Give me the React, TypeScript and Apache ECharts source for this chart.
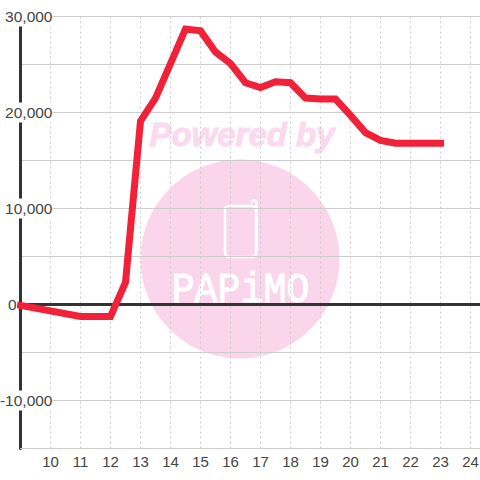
import React, { useEffect, useRef } from "react";
import * as echarts from "echarts";

const hours = [9, 11, 12, 12.5, 13, 13.5, 14, 14.5, 15, 15.5, 16, 16.5, 17, 17.5, 18, 18.5, 19, 19.5, 20, 20.5, 21, 21.5, 22, 22.5, 23];
const values = [-100, -1250, -1250, 2300, 19100, 21500, 25100, 28700, 28500, 26300, 25100, 23100, 22600, 23200, 23100, 21500, 21400, 21400, 19700, 17900, 17100, 16800, 16800, 16800, 16800];
const xMin = 9;
const xMax = 24.3167;
const zeroLine = [[xMin, 0], [xMax, 0]];

const DARK = "#333333";
const RED = "#f02138";
const GRID = "#cccccc";
const PINK = "#fbd5ec";
const FONT = "'Liberation Sans', Arial, sans-serif";

export default function App() {
  const ref = useRef<HTMLDivElement>(null);
  useEffect(() => {
    const chart = echarts.init(ref.current!, undefined, { renderer: "svg" });
    chart.setOption({
      animation: false,
      backgroundColor: "#ffffff",
      grid: { left: 20.5, right: 0, top: 16.5, bottom: 31.5, containLabel: false, outerBoundsMode: "none" },
      graphic: [
        { type: "circle", z: -1, shape: { cx: 240, cy: 259, r: 99.5 }, style: { fill: PINK } },
        { type: "text", z: -1, x: 242, y: 134, style: { text: "Powered by", fill: "#fbd9ef", stroke: "#fbd9ef", lineWidth: 1, font: "italic bold 33px 'Liberation Sans', sans-serif", textAlign: "center", textVerticalAlign: "middle" } },
        { type: "rect", z: -1, shape: { x: 225, y: 206, width: 31, height: 51, r: 4 }, style: { fill: "none", stroke: "#ffffff", lineWidth: 2.5 } },
        { type: "arc", z: -1, shape: { cx: 254, cy: 203, r: 2.5, startAngle: Math.PI, endAngle: 0, clockwise: true }, style: { fill: "none", stroke: "#ffffff", lineWidth: 2.5 } },
        { type: "line", z: -1, shape: { x1: 256.5, y1: 203, x2: 256.5, y2: 250 }, style: { stroke: "#ffffff", lineWidth: 2.5 } },
        { type: "text", z: -1, x: 240.5, y: 290, scaleX: 0.89, style: { text: "PAPiMO", fill: "#ffffff", stroke: "#ffffff", lineWidth: 1, font: "43px 'Liberation Mono', monospace", textAlign: "center", textVerticalAlign: "middle" } },
      ],
      xAxis: {
        type: "value",
        min: xMin,
        max: xMax,
        interval: 1,
        axisLine: { onZero: false, lineStyle: { color: GRID, width: 1 } },
        axisTick: { show: false },
        axisLabel: { color: "#444444", fontSize: 15, fontFamily: FONT, margin: 5, showMinLabel: false, showMaxLabel: false },
        splitLine: { show: true, lineStyle: { color: GRID, type: [2, 3], width: 1 } },
      },
      yAxis: {
        type: "value",
        min: -15000,
        max: 30000,
        interval: 5000,
        axisLine: { show: true, lineStyle: { color: DARK, width: 3 } },
        axisTick: { show: false },
        axisLabel: {
          margin: -32,
          align: "right",
          showMinLabel: true,
          showMaxLabel: true,
          formatter: (v: number) => {
            if (v === 0) return "{z|0}";
            if (v % 10000 !== 0) return "";
            return `{n|${v.toLocaleString("en-US")}}`;
          },
          rich: {
            n: { color: "#444444", fontSize: 15.5, fontFamily: FONT, backgroundColor: "#ffffff", padding: [2, 0, 2, 0], lineHeight: 16 },
            z: { color: "#444444", fontSize: 15.5, fontFamily: FONT, padding: [0, 36, 0, 0] },
          },
        },
        splitLine: { show: true, lineStyle: { color: GRID, width: 1 } },
      },
      series: [
        {
          type: "line",
          data: zeroLine,
          z: 3,
          symbol: "none",
          silent: true,
          lineStyle: { color: DARK, width: 3 },
        },
        {
          type: "line",
          data: hours.map((h, i) => [h, values[i]]),
          z: 4,
          clip: false,
          symbol: "none",
          silent: true,
          lineStyle: { color: RED, width: 7, cap: "square", join: "miter" },
        },
      ],
    });
    return () => chart.dispose();
  }, []);
  return <div ref={ref} style={{ position: "absolute", left: 0, top: 0, width: 480, height: 480 }} />;
}
